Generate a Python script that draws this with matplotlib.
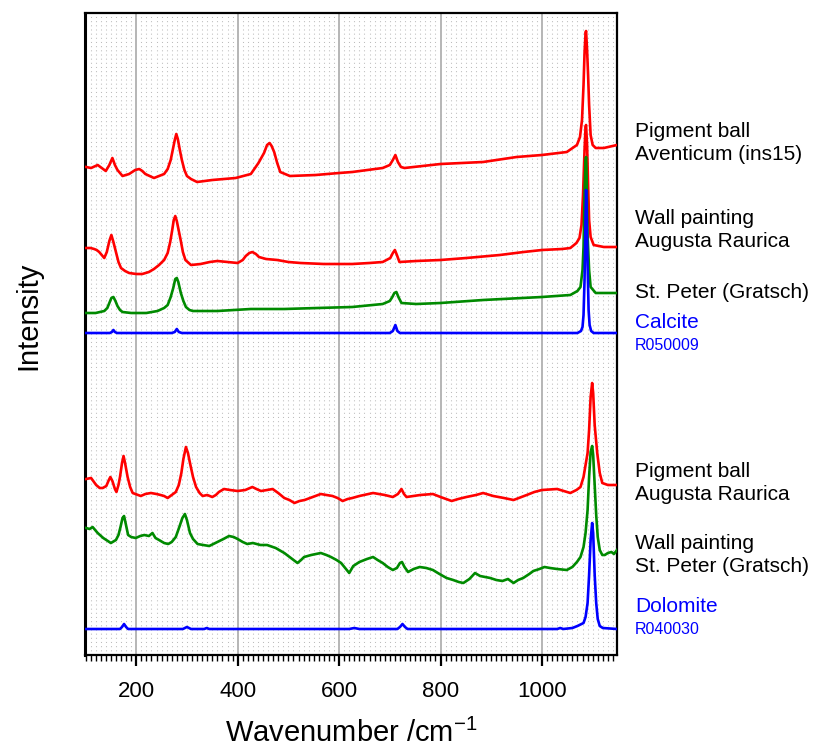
import matplotlib
matplotlib.use("Agg")
import matplotlib.pyplot as plt
from matplotlib.ticker import MultipleLocator, NullLocator
import matplotlib.transforms as mtransforms

plt.rcParams["font.family"] = ["Liberation Sans", "DejaVu Sans"]
plt.rcParams["mathtext.fontset"] = "custom"
plt.rcParams["mathtext.rm"] = "Liberation Sans"
plt.rcParams["mathtext.it"] = "Liberation Sans"

# ---- Raman spectra (wavenumber / cm-1, stacked intensity in a.u.) ----
aventicum_wn = [101, 111, 124, 132, 140, 147, 153, 158, 163, 173, 186, 198, 206, 212, 218, 235,
                255, 262, 268, 272, 276, 279, 282, 286, 290, 295, 300, 308, 320, 350, 396, 426,
                441, 452, 458, 463, 467, 472, 478, 484, 503, 554, 600, 626, 686, 700, 706, 711,
                716, 722, 729, 800, 884, 950, 1000, 1049, 1069, 1075, 1079, 1082, 1084, 1086,
                1087, 1089, 1091, 1093, 1096, 1100, 1106, 1122, 1148]
aventicum_int = [488, 487, 490, 487, 484, 490, 497, 490, 485, 479, 481, 485, 486, 484, 481, 477,
                 481, 486, 495, 505, 515, 521, 516, 505, 495, 485, 479, 476, 473, 475, 477, 481,
                 492, 502, 510, 512, 509, 503, 492, 483, 479, 480, 482, 483, 487, 490, 495, 500,
                 493, 488, 487, 491, 493, 498, 500, 503, 510, 518, 535, 570, 602, 622,
                 624, 605, 580, 550, 520, 510, 507, 507, 510]

augusta_wall_wn = [101, 110, 117, 122, 127, 132, 137, 142, 147, 151, 155, 160, 165, 170, 178, 186,
                   200, 212, 225, 235, 245, 255, 262, 267, 271, 274, 277, 280, 284, 288, 292, 297,
                   308, 327, 345, 360, 380, 400, 410, 416, 423, 429, 436, 442, 456, 478, 500, 524,
                   570, 600, 626, 660, 686, 701, 706, 710, 714, 719, 752, 800, 851, 917, 964, 1000,
                   1040, 1056, 1068, 1074, 1078, 1081, 1084, 1086, 1087, 1089, 1091, 1093, 1096,
                   1102, 1122, 1148]
augusta_wall_int = [407, 407, 406, 405, 403, 400, 397, 403, 414, 420, 413, 403, 393, 387, 384, 382,
                    381, 381, 383, 386, 390, 395, 402, 413, 425, 435, 439, 434, 424, 414, 403, 395,
                    390, 391, 393, 394, 393, 392, 395, 399, 402, 403, 401, 398, 396, 395, 393, 392,
                    391, 391, 391, 392, 393, 397, 402, 405, 400, 393, 394, 395, 397, 400, 403, 405,
                    406, 407, 412, 417, 430, 460, 505, 528, 530, 510, 470, 435, 418,
                    410, 408, 408]

stpeter_calc_wn = [101, 120, 137, 143, 147, 151, 155, 159, 163, 168, 173, 190, 202, 220, 242, 255,
                   262, 268, 273, 277, 280, 283, 288, 293, 298, 305, 312, 360, 426, 492, 557, 626,
                   686, 700, 705, 709, 713, 717, 723, 752, 800, 884, 1000, 1056, 1070, 1076, 1080,
                   1082, 1084, 1086, 1087, 1088, 1090, 1093, 1096, 1106, 1148]
stpeter_calc_int = [342, 342, 344, 347, 352, 357, 358, 354, 349, 345, 343, 342, 342, 342, 344, 347,
                    350, 358, 367, 376, 377, 373, 362, 354, 348, 345, 344, 344, 346, 346, 347, 348,
                    351, 354, 358, 362, 363, 358, 352, 351, 352, 355, 358, 360, 364, 368, 385,
                    408, 460, 495, 498, 480, 420, 385, 368, 362, 362]

calcite_wn = [100, 148, 152, 155, 158, 162, 270, 276, 280, 284, 290, 700, 706, 711, 715, 720,
              1070, 1077, 1080, 1082, 1084, 1086, 1087, 1088, 1090, 1092, 1094, 1097, 1102, 1148]
calcite_int = [322, 322, 323, 325, 323, 322, 322, 323, 326, 323, 322, 322, 324, 330, 324, 322,
               322, 324, 328, 340, 375, 440, 465, 450, 390, 345, 330, 324, 322, 322]

augusta_ball_wn = [101, 111, 121, 128, 134, 141, 146, 149, 153, 158, 161, 165, 168, 172, 175, 178,
                   183, 188, 193, 209, 218, 229, 240, 248, 255, 262, 270, 278, 284, 289, 293, 298,
                   302, 306, 312, 318, 325, 331, 340, 350, 357, 363, 373, 385, 400, 415, 429, 437,
                   446, 458, 469, 480, 492, 502, 512, 522, 532, 548, 564, 575, 587, 597, 607, 617,
                   626, 640, 667, 690, 706, 716, 723, 728, 733, 760, 785, 800, 822, 835, 851, 870,
                   884, 904, 925, 944, 970, 985, 1000, 1030, 1056, 1068, 1076, 1082, 1086, 1090,
                   1093, 1096, 1099, 1101, 1104, 1109, 1114, 1119, 1130, 1148]
augusta_ball_int = [176, 177, 170, 167, 167, 169, 175, 178, 174, 166, 163, 170, 178, 192, 199, 192,
                    178, 168, 162, 159, 161, 162, 161, 160, 159, 157, 160, 163, 170, 182, 196, 208,
                    202, 192, 178, 168, 162, 159, 160, 158, 160, 163, 166, 165, 164, 165, 168, 166,
                    164, 165, 166, 162, 157, 155, 152, 154, 155, 158, 161, 160, 159, 157, 154, 156,
                    157, 159, 162, 160, 158, 161, 166, 161, 158, 160, 161, 158, 154, 156, 158, 160,
                    162, 159, 157, 155, 160, 163, 165, 166, 162, 165, 168, 178, 190, 202,
                    225, 258, 272, 262, 230, 202, 182, 172, 170, 170]

stpeter_wall_wn = [101, 108, 114, 119, 124, 135, 150, 160, 165, 169, 173, 176, 179, 184, 190, 199,
                   208, 216, 225, 232, 238, 245, 255, 263, 270, 278, 285, 291, 296, 300, 306, 312,
                   321, 332, 344, 352, 360, 372, 383, 392, 400, 410, 419, 430, 445, 458, 475, 492,
                   505, 518, 525, 531, 545, 564, 575, 584, 595, 604, 612, 620, 628, 640, 655, 667,
                   676, 686, 696, 706, 714, 720, 724, 729, 736, 747, 759, 772, 785, 798, 812, 825,
                   836, 845, 857, 868, 878, 888, 898, 910, 922, 933, 944, 953, 963, 975, 983, 995,
                   1005, 1016, 1030, 1049, 1060, 1069, 1076, 1082, 1086, 1090, 1093, 1096, 1099,
                   1101, 1104, 1107, 1110, 1114, 1119, 1124, 1130, 1137, 1142, 1148]
stpeter_wall_int = [127, 126, 128, 125, 122, 117, 112, 115, 120, 128, 137, 139, 132, 120, 118, 117,
                    119, 120, 119, 122, 117, 115, 112, 111, 113, 118, 128, 137, 141, 135, 122, 116,
                    111, 110, 109, 111, 113, 116, 119, 118, 116, 113, 111, 112, 110, 110, 107, 102,
                    97, 92, 95, 98, 100, 102, 100, 98, 95, 92, 87, 82, 89, 93, 96, 98,
                    95, 92, 88, 85, 87, 92, 93, 88, 83, 86, 88, 87, 85, 81, 77, 75,
                    73, 72, 76, 82, 79, 78, 77, 75, 74, 76, 72, 75, 77, 81, 84, 86,
                    88, 87, 86, 85, 88, 93, 98, 108, 122, 145, 178, 203, 209,
                    200, 170, 140, 118, 105, 100, 100, 102, 103, 101, 105]

dolomite_wn = [100, 168, 172, 176, 180, 184, 292, 296, 300, 304, 308, 334, 339, 344, 620, 630,
               640, 715, 720, 725, 730, 735, 1030, 1036, 1042, 1060, 1070, 1078, 1082, 1086, 1090,
               1093, 1096, 1099, 1101, 1104, 1107, 1110, 1114, 1120, 1148]
dolomite_int = [26, 26, 28, 31, 28, 26, 26, 27, 28, 27, 26, 26, 27, 26, 26, 27,
                26, 26, 28, 31, 28, 26, 26, 27, 26, 27, 29, 31, 32, 38, 52,
                80, 115, 132, 122, 80, 52, 36, 29, 27, 26]

RED, GREEN, BLUE = "#ff0000", "#008a00", "#0000ff"

fig = plt.figure(figsize=(8.17, 7.51), dpi=100)
W, H = 817, 751
x0, x1, ytop, ybot = 85, 617, 13, 655
ax = fig.add_axes([x0 / W, 1 - ybot / H, (x1 - x0) / W, (ybot - ytop) / H])

# red traces first, then green, then the blue references on top
lw = 1.9
ax.plot(aventicum_wn, aventicum_int, color=RED, lw=lw, zorder=3)
ax.plot(augusta_wall_wn, augusta_wall_int, color=RED, lw=lw, zorder=3)
ax.plot(augusta_ball_wn, augusta_ball_int, color=RED, lw=lw, zorder=3)
ax.plot(stpeter_calc_wn, stpeter_calc_int, color=GREEN, lw=lw, zorder=4)
ax.plot(stpeter_wall_wn, stpeter_wall_int, color=GREEN, lw=lw, zorder=4)
ax.plot(calcite_wn, calcite_int, color=BLUE, lw=lw, zorder=5)
ax.plot(dolomite_wn, dolomite_int, color=BLUE, lw=lw, zorder=5)

ax.set_xlim(99, 1148)
ax.set_ylim(0, 642)

ax.xaxis.set_major_locator(MultipleLocator(200))
ax.xaxis.set_minor_locator(MultipleLocator(10))
ax.yaxis.set_major_locator(NullLocator())
ax.yaxis.set_minor_locator(NullLocator())

ax.grid(which="major", axis="x", color="#a9a9a9", lw=1.2, zorder=1)
ax.grid(which="minor", axis="x", color="#bdbdbd", lw=0.75, ls=(0, (1, 3)), zorder=0)
ax.set_axisbelow(True)

ax.tick_params(axis="x", which="major", direction="out", length=8, width=1.6,
               labelsize=16, pad=11)
ax.tick_params(axis="x", which="minor", direction="out", length=4, width=1.0)
ax.tick_params(axis="y", which="both", left=False, labelleft=False)

for side in ("top", "right", "bottom"):
    ax.spines[side].set_linewidth(1.6)
ax.spines["left"].set_linewidth(2.2)

ax.set_xlabel("Wavenumber /cm$^{-1}$", fontsize=21)
ax.xaxis.set_label_coords(0.5, -0.100)
ax.set_ylabel("Intensity", fontsize=21)
ax.yaxis.set_label_coords(-0.080, 0.528)

# sample labels to the right of the frame, positioned by intensity level
trans = mtransforms.blended_transform_factory(ax.transAxes, ax.transData)
lx = (635 - x0) / (x1 - x0)
labels = [
    ("Pigment ball\nAventicum (ins15)", 512, "black", 15),
    ("Wall painting\nAugusta Raurica", 425, "black", 15),
    ("St. Peter (Gratsch)", 363, "black", 15),
    ("Calcite", 333, BLUE, 15),
    ("R050009", 309, BLUE, 11.5),
    ("Pigment ball\nAugusta Raurica", 172, "black", 15),
    ("Wall painting\nSt. Peter (Gratsch)", 100, "black", 15),
    ("Dolomite", 49, BLUE, 15),
    ("R040030", 26, BLUE, 11.5),
]
for txt, yv, col, fs in labels:
    ax.text(lx, yv, txt, transform=trans, color=col, fontsize=fs,
            ha="left", va="center", linespacing=1.25, clip_on=False)

fig.savefig("out.png", dpi=100, facecolor="white")
